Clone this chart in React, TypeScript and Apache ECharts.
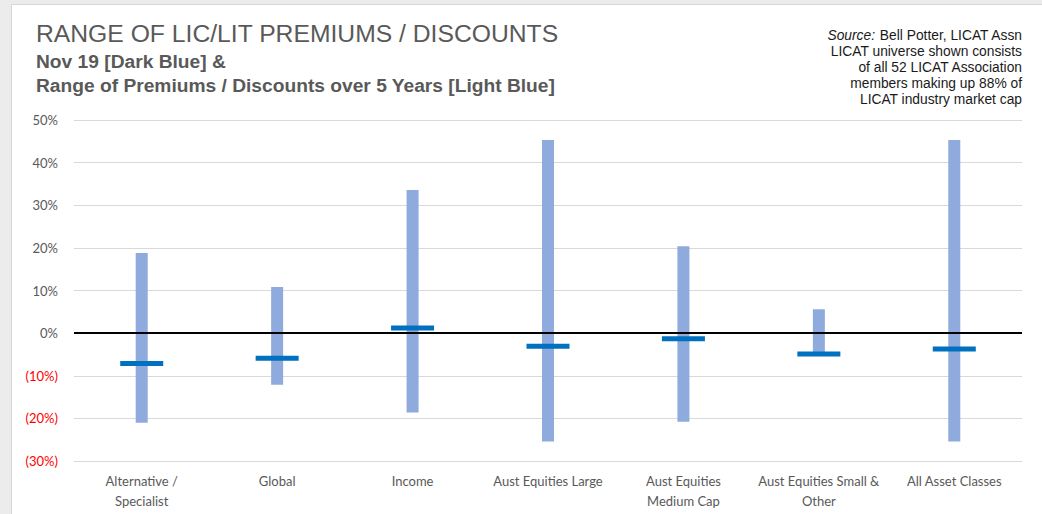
import React, { useEffect, useRef } from "react";
import * as echarts from "echarts";

const categories = [
  "Alternative /\nSpecialist",
  "Global",
  "Income",
  "Aust Equities Large",
  "Aust Equities\nMedium Cap",
  "Aust Equities Small &\nOther",
  "All Asset Classes",
];
const rangeMin = [-21.0, -12.1, -18.6, -25.4, -20.8, -4.8, -25.4];
const rangeMax = [18.8, 10.8, 33.6, 45.3, 20.4, 5.6, 45.3];
const nov19 = [-7.1, -5.9, 1.2, -3.1, -1.3, -4.9, -3.7];
const yTicks = { min: -30, max: 50, interval: 10 };

const titleText = "RANGE OF LIC/LIT PREMIUMS / DISCOUNTS";
const subtitle1 = "Nov 19 [Dark Blue] &";
const subtitle2 = "Range of Premiums / Discounts over 5 Years [Light Blue]";
const sourceLines = [
  "{i|Source:} Bell Potter, LICAT Assn",
  "LICAT universe shown consists",
  "of all 52 LICAT Association",
  "members making up 88% of",
  "LICAT industry market cap",
];

export default function App() {
  const ref = useRef<HTMLDivElement>(null);
  useEffect(() => {
    if (!ref.current) return;
    const chart = echarts.init(ref.current, null, { renderer: "svg" });
    const rangeData = categories.map((_, i) => [i, rangeMin[i], rangeMax[i]]);
    const markerData = categories.map((_, i) => [i, nov19[i]]);
    chart.setOption({
      animation: false,
      backgroundColor: "#ececec",
      grid: { left: 74, right: 20, top: 120, bottom: 53 },
      graphic: [
        {
          type: "rect",
          z: -10,
          silent: true,
          shape: { x: 11.5, y: 4.5, width: 1040, height: 520 },
          style: { fill: "#ffffff", stroke: "#d6d6d6", lineWidth: 1 },
        },
        {
          type: "text",
          x: 36,
          y: 33,
          style: {
            text: titleText,
            font: "24.7px 'Liberation Sans', Arial, sans-serif",
            fill: "#595959",
            verticalAlign: "middle",
          },
        },
        {
          type: "text",
          x: 36,
          y: 61,
          style: {
            text: subtitle1,
            font: "bold 19.2px 'Liberation Sans', Arial, sans-serif",
            fill: "#595959",
            verticalAlign: "middle",
          },
        },
        {
          type: "text",
          x: 36,
          y: 85,
          style: {
            text: subtitle2,
            font: "bold 19.2px 'Liberation Sans', Arial, sans-serif",
            fill: "#595959",
            verticalAlign: "middle",
          },
        },
        {
          type: "text",
          x: 1022,
          y: 27,
          style: {
            text: sourceLines.join("\n"),
            font: "13.8px 'Liberation Sans', Arial, sans-serif",
            fill: "#1a1a1a",
            align: "right",
            verticalAlign: "top",
            lineHeight: 16,
            rich: {
              i: {
                fontStyle: "italic",
                fontSize: 13.8,
                fontFamily: "'Liberation Sans', Arial, sans-serif",
                fill: "#1a1a1a",
              },
            },
          },
        },
      ],
      xAxis: {
        type: "category",
        data: categories,
        axisLine: { show: false },
        axisTick: { show: false },
        axisLabel: {
          interval: 0,
          color: "#595959",
          fontFamily: "Lato",
          fontSize: 13,
          lineHeight: 20,
          margin: 10,
        },
        splitLine: { show: false },
      },
      yAxis: {
        type: "value",
        min: yTicks.min,
        max: yTicks.max,
        interval: yTicks.interval,
        axisLine: { show: false },
        axisTick: { show: false },
        splitLine: { lineStyle: { color: "#d9d9d9", width: 1 } },
        axisLabel: {
          margin: 16,
          fontFamily: "Lato",
          fontSize: 13,
          formatter: (v: number) =>
            v < 0 ? `{neg|(${Math.abs(v)}%)}` : `{pos|${v}%}`,
          rich: {
            pos: { color: "#595959", fontFamily: "Lato", fontSize: 13 },
            neg: { color: "#ff0000", fontFamily: "Lato", fontSize: 13 },
          },
        },
      },
      series: [
        {
          type: "custom",
          name: "5yr range",
          data: rangeData,
          encode: { x: 0, y: [1, 2] },
          z: 2,
          renderItem: (params: any, api: any) => {
            const x = api.value(0);
            const lo = api.coord([x, api.value(1)]);
            const hi = api.coord([x, api.value(2)]);
            const w = 12;
            return {
              type: "rect",
              shape: { x: lo[0] - w / 2, y: hi[1], width: w, height: lo[1] - hi[1] },
              style: { fill: "#8faadc" },
            };
          },
        },
        {
          type: "scatter",
          name: "Nov 19",
          data: markerData,
          symbol: "rect",
          symbolSize: [43, 5],
          itemStyle: { color: "#0070c0", opacity: 1 },
          z: 4,
          markLine: {
            silent: true,
            symbol: ["none", "none"],
            label: { show: false },
            lineStyle: { color: "#000000", width: 2, type: "solid" },
            data: [{ yAxis: 0 }],
            z: 3,
          },
        },
      ],
    });
    return () => chart.dispose();
  }, []);
  return (
    <div
      ref={ref}
      style={{ position: "absolute", left: 0, top: 0, width: 1042, height: 514 }}
    />
  );
}
